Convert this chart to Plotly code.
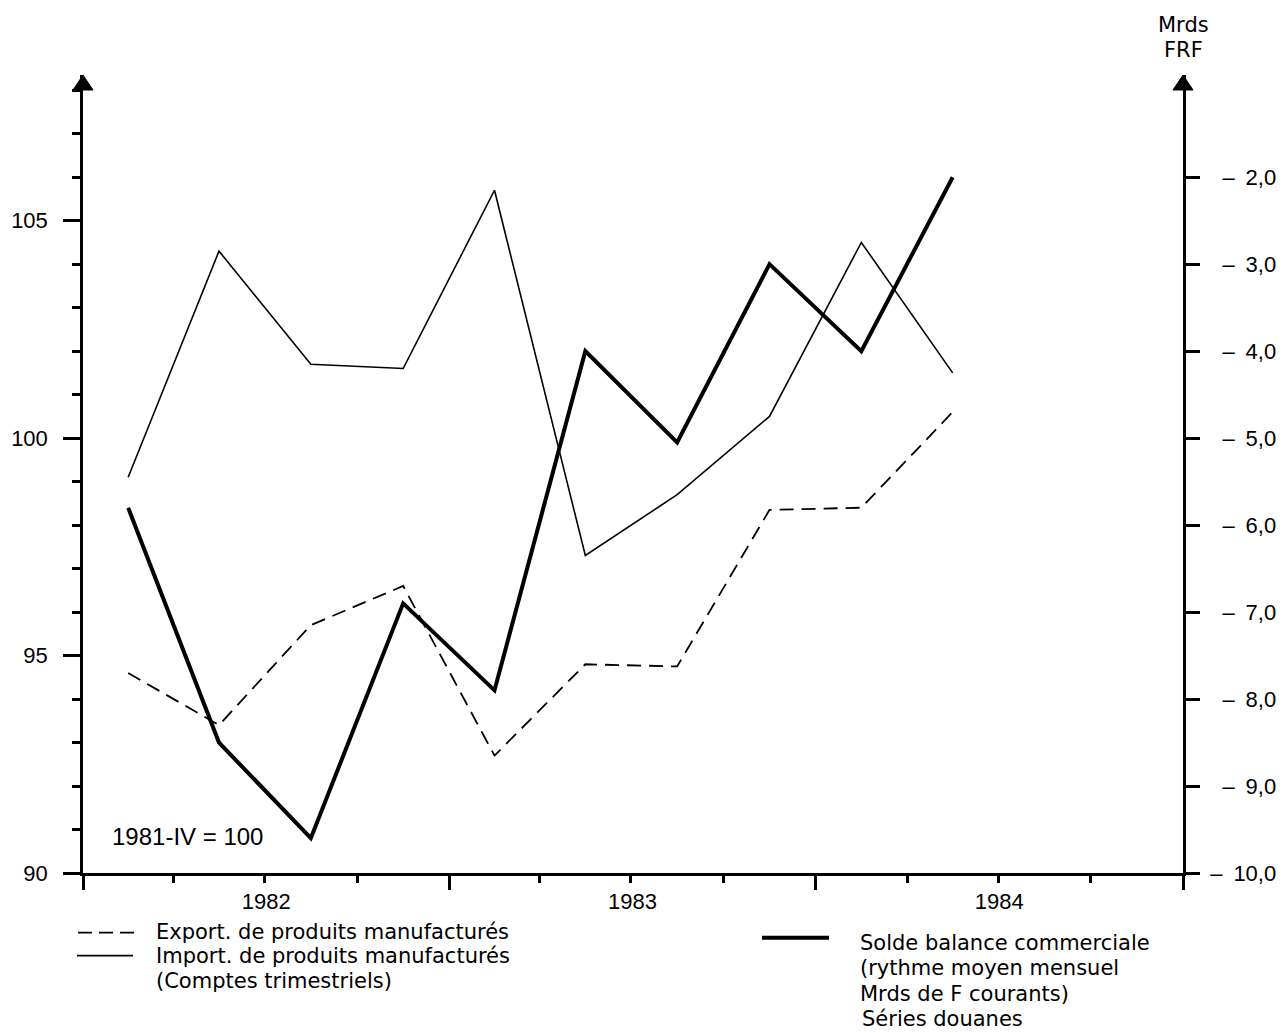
import pandas as pd
import plotly.graph_objects as go

# ---- data ----
quarters = ["1982Q1", "1982Q2", "1982Q3", "1982Q4", "1983Q1",
            "1983Q2", "1983Q3", "1983Q4", "1984Q1", "1984Q2"]
export_idx = [94.6, 93.4, 95.7, 96.6, 92.7, 94.8, 94.75, 98.35, 98.4, 100.6]
import_idx = [99.1, 104.3, 101.7, 101.6, 105.7, 97.3, 98.7, 100.5, 104.5, 101.5]
solde = [-5.8, -8.5, -9.6, -6.9, -7.9, -4.0, -5.05, -3.0, -4.0, -2.0]

left_ticks = [90, 95, 100, 105]
right_tickvals = [-10, -9, -8, -7, -6, -5, -4, -3, -2]
# labels right-aligned by a leading figure space for one-digit values
right_ticktext = [("" if abs(v) >= 10 else "\u2007") + "–\u2002" + f"{abs(v)},0"
                  for v in right_tickvals]

def mid_quarter(q):
    p = pd.Period(q, freq="Q")
    return p.start_time + (p.end_time - p.start_time) / 2

x = [mid_quarter(q) for q in quarters]

# ---- geometry helpers (pixels -> paper) ----
W, H = 1285, 1033
L, R, T, B = 83, 1183, 75, 873.3
def px(v):
    return (v - L) / (R - L)
def py(v):
    return (B - v) / (B - T)

NUM_FONT = dict(family="Liberation Sans, Arial, sans-serif", size=22, color="black")
TXT_FONT = dict(family="DejaVu Sans, sans-serif", size=21, color="black")
NOTE_FONT = dict(family="Liberation Sans, Arial, sans-serif", size=24, color="black")

fig = go.Figure()
fig.add_trace(go.Scatter(x=x, y=export_idx, mode="lines", name="Export",
                         line=dict(color="black", width=1.8, dash="14px,8px")))
fig.add_trace(go.Scatter(x=x, y=import_idx, mode="lines", name="Import",
                         line=dict(color="black", width=1.6)))
fig.add_trace(go.Scatter(x=x, y=solde, mode="lines", name="Solde", yaxis="y2",
                         line=dict(color="black", width=4)))

fig.update_layout(
    width=W, height=H,
    margin=dict(l=L, r=W - R, t=T, b=H - B),
    paper_bgcolor="white", plot_bgcolor="white",
    showlegend=False,
    xaxis=dict(
        type="date", range=["1982-01-01", "1985-01-01"], automargin=False,
        showgrid=False, zeroline=False,
        showline=True, linecolor="black", linewidth=2.5,
        ticks="outside", ticklen=14, tickwidth=2.5, tickcolor="black",
        tick0="1982-01-01", dtick="M12",
        ticklabelmode="period", tickformat="%Y",
        ticklabelstandoff=-7,
        tickfont=NUM_FONT,
        minor=dict(ticks="outside", dtick="M3", tick0="1982-01-01",
                   ticklen=7, tickwidth=2.5, tickcolor="black", showgrid=False),
    ),
    yaxis=dict(
        range=[90, 108.35], automargin=False,
        showgrid=False, zeroline=False,
        showline=True, linecolor="black", linewidth=2.5,
        tickmode="array", tickvals=left_ticks,
        ticks="outside", ticklen=17, tickwidth=2.5, tickcolor="black",
        ticklabelstandoff=11,
        tickfont=NUM_FONT,
        minor=dict(ticks="outside", dtick=1, tick0=90, ticklen=8,
                   tickwidth=2.5, tickcolor="black", showgrid=False),
    ),
    yaxis2=dict(
        range=[-10, -0.825], overlaying="y", side="right", automargin=False,
        showgrid=False, zeroline=False,
        showline=True, linecolor="black", linewidth=2.5,
        tickmode="array", tickvals=right_tickvals, ticktext=right_ticktext,
        ticks="outside", ticklen=14, tickwidth=2.5, tickcolor="black",
        ticklabelstandoff=6,
        tickfont=NUM_FONT,
    ),
)

# arrowheads on both vertical axes
for xa, ya in ((0, 1), (1, 1)):
    fig.add_shape(type="path", xref="paper", yref="paper",
                  xsizemode="pixel", ysizemode="pixel",
                  xanchor=xa, yanchor=ya,
                  path="M -10,-15 L 10,-15 L 0,0 Z",
                  fillcolor="black", line=dict(color="black", width=1))

ann = []
ann.append(dict(text="1981-IV = 100", x=px(110), y=py(837), xanchor="left", font=NOTE_FONT))
ann.append(dict(text="Mrds", x=px(1183), y=py(25), xanchor="center", font=TXT_FONT))
ann.append(dict(text="FRF", x=px(1183), y=py(50), xanchor="center", font=TXT_FONT))
# left legend
ann.append(dict(text="Export. de produits manufacturés", x=px(154), y=py(932), xanchor="left", font=TXT_FONT))
ann.append(dict(text="Import. de produits manufacturés", x=px(154), y=py(956.5), xanchor="left", font=TXT_FONT))
ann.append(dict(text="(Comptes trimestriels)", x=px(154), y=py(981), xanchor="left", font=TXT_FONT))
# right legend
ann.append(dict(text="Solde balance commerciale", x=px(858), y=py(943), xanchor="left", font=TXT_FONT))
ann.append(dict(text="(rythme moyen mensuel", x=px(858), y=py(968.5), xanchor="left", font=TXT_FONT))
ann.append(dict(text="Mrds de F courants)", x=px(858), y=py(994), xanchor="left", font=TXT_FONT))
ann.append(dict(text="Séries douanes", x=px(860), y=py(1019.5), xanchor="left", font=TXT_FONT))
for a in ann:
    fig.add_annotation(xref="paper", yref="paper", showarrow=False,
                       yanchor="middle", **a)

# legend samples
fig.add_shape(type="line", xref="paper", yref="paper",
              x0=px(78), x1=px(136), y0=py(933), y1=py(933),
              line=dict(color="black", width=1.8, dash="14px,7px"))
fig.add_shape(type="line", xref="paper", yref="paper",
              x0=px(77), x1=px(133), y0=py(956), y1=py(956),
              line=dict(color="black", width=1.6))
fig.add_shape(type="line", xref="paper", yref="paper",
              x0=px(762), x1=px(829), y0=py(938), y1=py(938),
              line=dict(color="black", width=4))

fig.write_html("out.html", config={"displayModeBar": False},
               post_script="document.body.style.margin='0';")
